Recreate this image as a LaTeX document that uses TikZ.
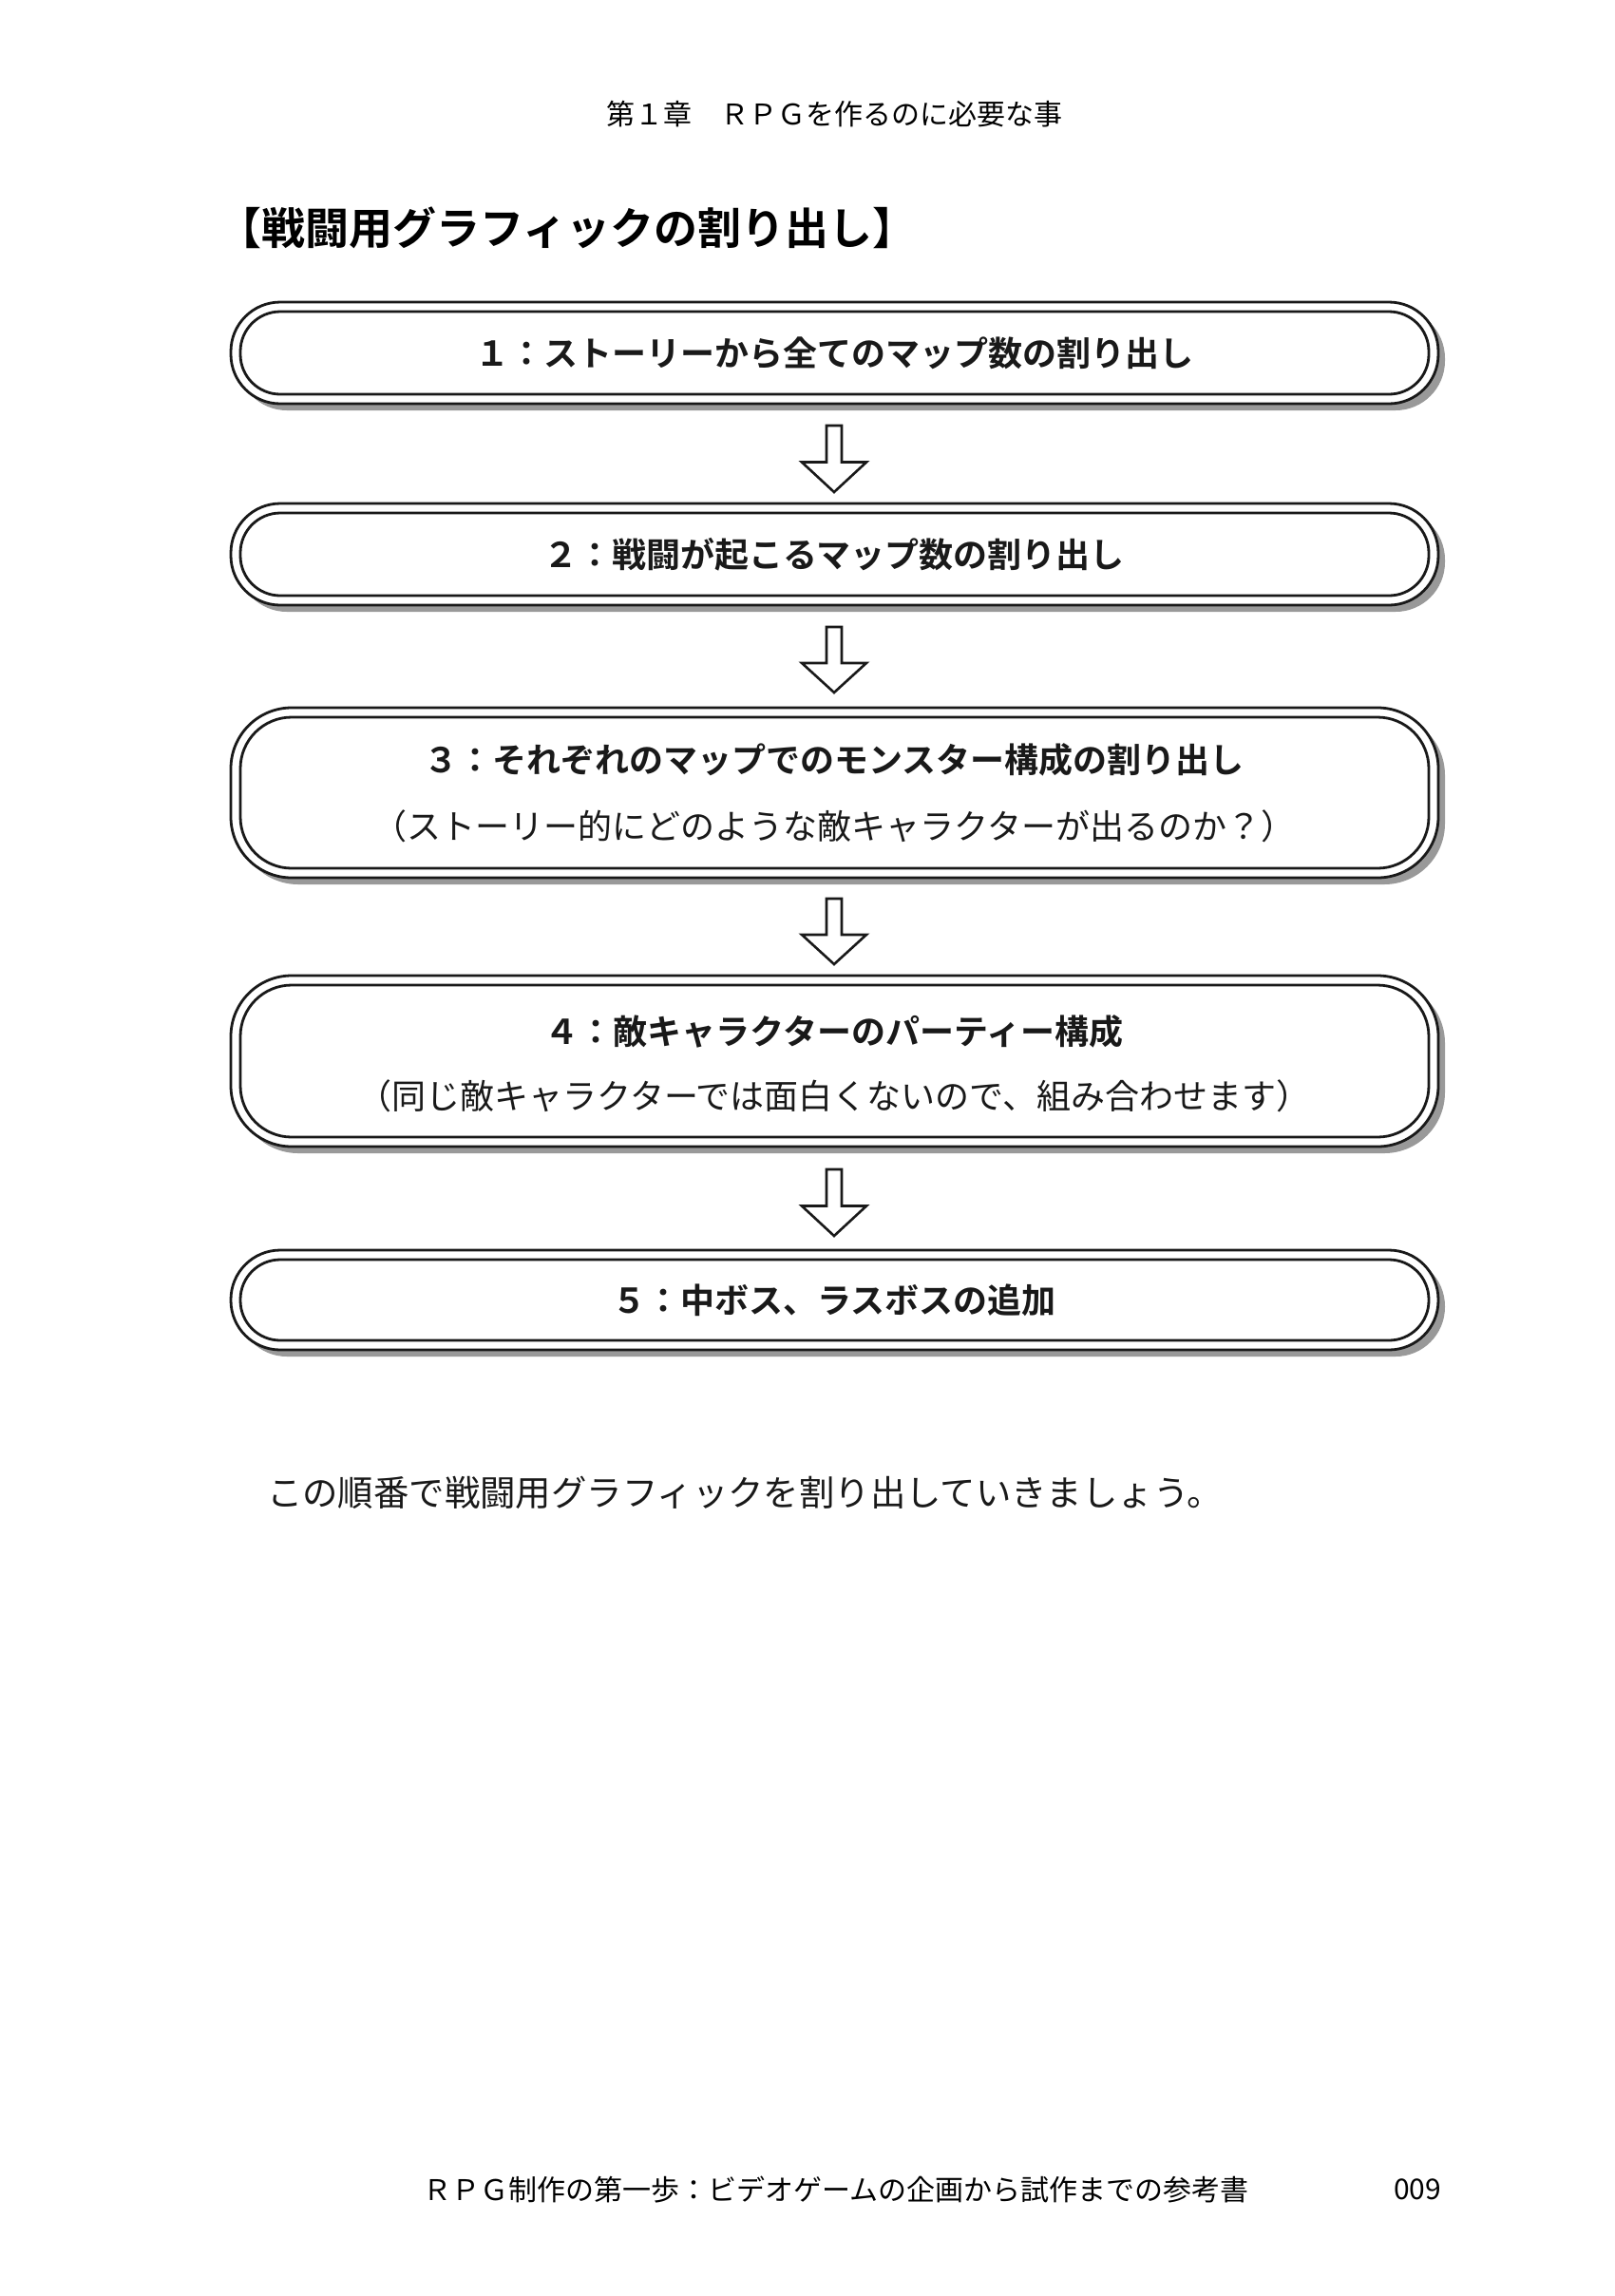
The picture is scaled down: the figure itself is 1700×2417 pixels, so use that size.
\documentclass[tikz,border=0pt]{standalone}
\usepackage{fontspec}
\setmainfont{Noto Sans CJK JP}
\newfontfamily\jpb{Noto Sans CJK JP Bold}
\begin{document}
\begin{tikzpicture}[x=0.5pt,y=-0.5pt,
  boxline/.style={draw=black!90,line width=1.4pt,fill=white},
  shade/.style={fill=black!40},
  btxt/.style={font=\jpb\fontsize{18}{21}\selectfont,text=black!90},
  rtxt/.style={font=\fontsize{18}{21}\selectfont,text=black!90},
  blockarrow/.style={draw=black!90,line width=1.3pt,fill=white}]
\useasboundingbox (0,0) rectangle (1700,2417);
\node[font=\fontsize{15}{17}\selectfont] (hdr) at (878,120) {第１章　ＲＰＧを作るのに必要な事};
\node[anchor=west,font=\jpb\fontsize{23}{26}\selectfont] (ttl) at (222,240) {【戦闘用グラフィックの割り出し】};
% boxes
\newcommand{\pbox}[4]{% name, top, bottom, radius(pt)
  \fill[shade,rounded corners=#4pt] (250,#2+7) rectangle (1521,#3+7);
  \draw[boxline,rounded corners=#4pt] (243,#2) rectangle (1514,#3);
  \draw[line width=1.4pt,draw=black!90,rounded corners=#4pt-5pt] (253,#2+10) rectangle (1504,#3-10);
  \coordinate (#1t) at (878,#2); \coordinate (#1b) at (878,#3);}
\pbox{b1}{318}{425}{26}
\pbox{b2}{530}{637}{26}
\pbox{b3}{745}{924}{32}
\pbox{b4}{1027}{1207}{32}
\pbox{b5}{1316}{1421}{26}
\node[btxt] (t1) at (878,372) {１：ストーリーから全てのマップ数の割り出し};
\node[btxt] (t2) at (878,584) {２：戦闘が起こるマップ数の割り出し};
\node[btxt] (t3) at (878,800) {３：それぞれのマップでのモンスター構成の割り出し};
\node[rtxt] (t3b) at (878,870) {（ストーリー的にどのような敵キャラクターが出るのか？）};
\node[btxt] (t4) at (878,1086) {４：敵キャラクターのパーティー構成};
\node[rtxt] (t4b) at (878,1154) {（同じ敵キャラクターでは面白くないので、組み合わせます）};
\node[btxt] (t5) at (878,1369) {５：中ボス、ラスボスの追加};
% arrows
\newcommand{\barrow}[2]{%
  \draw[blockarrow] (870,#1) -- (886,#1) -- (886,#1+0.55*#2-#1*0.55) -- (912,#1+0.55*#2-#1*0.55) -- (878,#2) -- (844,#1+0.55*#2-#1*0.55) -- (870,#1+0.55*#2-#1*0.55) -- cycle;}
\barrow{448}{518}
\barrow{660}{729}
\barrow{946}{1015}
\barrow{1231}{1301}
\node[anchor=west,font=\fontsize{18.7}{21}\selectfont,text=black!90] (body) at (274,1571) {この順番で戦闘用グラフィックを割り出していきましょう。};
\node[font=\fontsize{15}{17}\selectfont] (ftr) at (880,2305) {ＲＰＧ制作の第一歩：ビデオゲームの企画から試作までの参考書};
\node[font=\fontsize{15}{17}\selectfont] (pg) at (1492,2305) {009};
\end{tikzpicture}
\end{document}
